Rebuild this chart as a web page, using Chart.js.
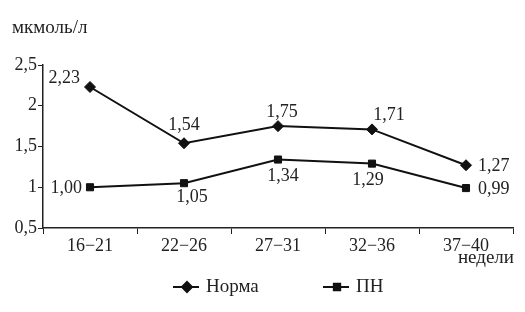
<!DOCTYPE html>
<html>
<head>
<meta charset="utf-8">
<script src="https://cdn.jsdelivr.net/npm/chart.js@4/dist/chart.umd.min.js"></script>
<style>
  body { margin: 0; background: #fff; }
  #wrap { width: 525px; height: 312px; }
</style>
</head>
<body>
<div id="wrap"><canvas id="myChart" width="525" height="312"></canvas></div>
<script>
const weeks = ["16−21", "22−26", "27−31", "32−36", "37−40"];
const norma = [2.23, 1.54, 1.75, 1.71, 1.27];
const pn = [1.00, 1.05, 1.34, 1.29, 0.99];
const yTicks = [0.5, 1, 1.5, 2, 2.5];

// label placement per point: [align, dx, dy]
const normaPos = [["right", -10, -9], ["center", 0, -18], ["center", 4, -14], ["center", 17, -14], ["left", 12, 1]];
const pnPos = [["right", -8, 1], ["center", 8, 14], ["center", 5, 17], ["center", -4, 17], ["left", 12, 1]];

const FONT = "'Liberation Serif', 'DejaVu Serif', serif";
const fmt = (v, d) => v.toFixed(d).replace(".", ",");

const labelsPlugin = {
  id: "valueLabels",
  afterDatasetsDraw(chart) {
    const ctx = chart.ctx;
    ctx.save();
    ctx.font = "18px " + FONT;
    ctx.fillStyle = "#222";
    ctx.textBaseline = "middle";
    const sets = [[0, norma, normaPos], [1, pn, pnPos]];
    sets.forEach(([di, vals, pos]) => {
      const meta = chart.getDatasetMeta(di);
      meta.data.forEach((pt, i) => {
        const [align, dx, dy] = pos[i];
        ctx.textAlign = align;
        ctx.fillText(fmt(vals[i], 2), pt.x + dx, pt.y + dy);
      });
    });
    ctx.restore();
  },
  afterDraw(chart) {
    const ctx = chart.ctx;
    ctx.save();
    ctx.fillStyle = "#222";
    ctx.font = "19px " + FONT;
    ctx.textBaseline = "middle";
    ctx.textAlign = "left";
    ctx.fillText("мкмоль/л", 12, 28);
    ctx.textAlign = "right";
    ctx.fillText("недели", 514, 258);

    // legend
    const items = [["Норма", "rectRot", 5], ["ПН", "rect", 4.5]];
    const starts = [173, 323];
    const ly = 287;
    ctx.textAlign = "left";
    items.forEach(([name, style, r], i) => {
      const x0 = starts[i];
      ctx.strokeStyle = "#111";
      ctx.lineWidth = 2;
      ctx.beginPath();
      ctx.moveTo(x0, ly);
      ctx.lineTo(x0 + 26, ly);
      ctx.stroke();
      Chart.helpers.drawPoint(ctx, { pointStyle: style, radius: r, borderWidth: 1 }, x0 + 14, ly);
      ctx.fillStyle = "#111";
      ctx.fill();
      ctx.fillStyle = "#222";
      ctx.fillText(name, x0 + 33, ly);
    });
    ctx.restore();
  }
};

const mychart1 = document.getElementById("myChart").getContext("2d");

new Chart(mychart1, {
  type: "line",
  data: {
    labels: weeks,
    datasets: [
      {
        label: "Норма",
        data: norma,
        borderColor: "#111",
        backgroundColor: "#111",
        borderWidth: 2,
        pointStyle: "rectRot",
        pointRadius: 5.5,
        pointBorderWidth: 1,
        tension: 0,
      },
      {
        label: "ПН",
        data: pn,
        borderColor: "#111",
        backgroundColor: "#111",
        borderWidth: 2,
        pointStyle: "rect",
        pointRadius: 5,
        pointBorderWidth: 1,
        tension: 0,
      },
    ],
  },
  options: {
    responsive: false,
    animation: false,
    layout: { padding: { left: 0, top: 65, right: 12, bottom: 52 } },
    plugins: {
      legend: { display: false },
      tooltip: { enabled: false },
    },
    scales: {
      x: {
        offset: true,
        grid: {
          offset: true,
          drawOnChartArea: false,
          drawTicks: true,
          tickLength: 6,
          color: "#222",
        },
        border: { color: "#222", width: 1.5 },
        ticks: {
          color: "#222",
          font: { family: FONT, size: 18 },
          padding: 1,
          maxRotation: 0,
        },
        afterFit: (s) => { s.height = 32; },
      },
      y: {
        min: 0.5,
        max: 2.5,
        afterBuildTicks: (s) => { s.ticks = yTicks.map((v) => ({ value: v })); },
        grid: {
          drawOnChartArea: false,
          drawTicks: true,
          tickLength: 5,
          color: "#222",
        },
        border: { color: "#222", width: 1.5 },
        ticks: {
          color: "#222",
          font: { family: FONT, size: 18 },
          padding: 1,
          callback: (v) => String(v).replace(".", ","),
        },
        afterFit: (s) => { s.width = 43; },
      },
    },
  },
  plugins: [labelsPlugin],
});
</script>
</body>
</html>
